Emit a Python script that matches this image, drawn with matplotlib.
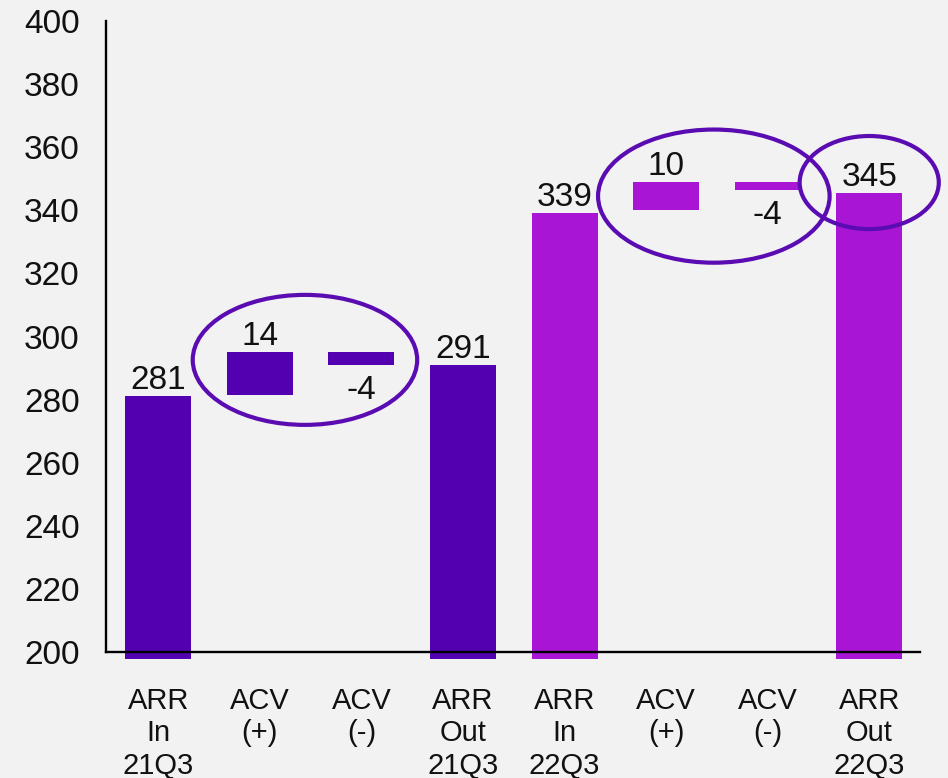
import matplotlib
matplotlib.use("Agg")
import matplotlib.pyplot as plt
from matplotlib.patches import Ellipse

# waterfall steps, ARR in -> ACV +/- -> ARR out, for two quarters
categories = ["ARR\nIn\n21Q3", "ACV\n(+)", "ACV\n(-)", "ARR\nOut\n21Q3",
              "ARR\nIn\n22Q3", "ACV\n(+)", "ACV\n(-)", "ARR\nOut\n22Q3"]
value_labels = ["281", "14", "-4", "291", "339", "10", "-4", "345"]
bar_bottom = [0, 281.5, 291, 0, 0, 340, 346.4, 0]
bar_top = [281, 295, 295, 291, 339.3, 348.9, 348.9, 345.5]
is_negative = [False, False, True, False, False, False, True, False]

DARK = "#5200B0"
LIGHT = "#A815D5"
colors = [DARK] * 4 + [LIGHT] * 4
RING = "#5A0CB2"

plt.rcParams["font.family"] = ["Liberation Sans", "DejaVu Sans"]
FS_CAT = 21      # category labels
FS_NUM = 24      # numbers (ticks + bar values)

fig = plt.figure(figsize=(9.48, 7.78), dpi=100, facecolor="#F2F2F2")
ax = fig.add_axes([106 / 948, 1 - 659 / 778, (920 - 106) / 948, (659 - 21) / 778])
ax.set_facecolor("#F2F2F2")

x = list(range(len(categories)))
heights = [t - b for t, b in zip(bar_top, bar_bottom)]
ax.bar(x, heights, bottom=bar_bottom, width=0.65, color=colors, zorder=2)

for xi, lab, b, t, neg in zip(x, value_labels, bar_bottom, bar_top, is_negative):
    if neg:
        ax.annotate(lab, (xi, b), xytext=(0, -7), textcoords="offset points",
                    ha="center", va="top", fontsize=FS_NUM, color="#111111")
    else:
        ax.annotate(lab, (xi, t), xytext=(0, 0), textcoords="offset points",
                    ha="center", va="bottom", fontsize=FS_NUM, color="#111111")

# highlight rings
for cx, cy, w, h in [(1.444, 292.6, 2.21, 41.2), (5.47, 344.5, 2.28, 42.2), (7.0, 348.8, 1.37, 29.5)]:
    ax.add_patch(Ellipse((cx, cy), w, h, fill=False, edgecolor=RING, lw=3, zorder=4, clip_on=False))

ax.set_xlim(-0.515, 7.5)
ax.set_ylim(197.8, 400)
ax.set_yticks(range(200, 401, 20))
ax.set_xticks(x)
ax.set_xticklabels(categories, linespacing=1.15)
ax.tick_params(axis="y", length=0, pad=19, labelsize=FS_NUM, labelcolor="#111111")
ax.tick_params(axis="x", length=0, pad=25, labelsize=FS_CAT, labelcolor="#111111")

for s in ["top", "right"]:
    ax.spines[s].set_visible(False)
ax.spines["left"].set_bounds(200, 400)
ax.spines["left"].set_linewidth(1.7)
ax.spines["bottom"].set_position(("data", 200))
ax.spines["bottom"].set_linewidth(1.7)
ax.spines["bottom"].set_zorder(5)

fig.savefig("out.png", dpi=100, facecolor=fig.get_facecolor())
